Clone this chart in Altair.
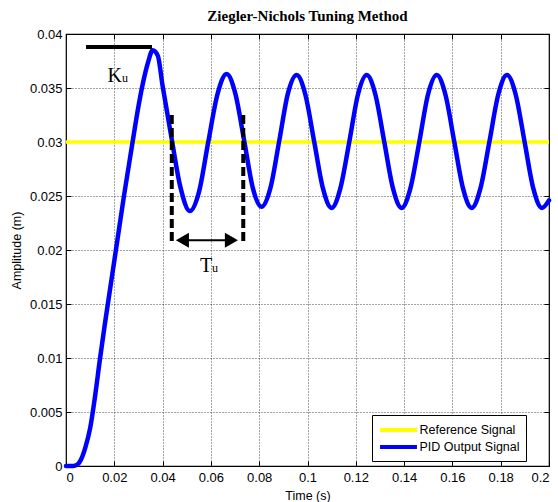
import altair as alt
import pandas as pd

# ---------------- data ----------------
t_pid = [0.000, 0.003, 0.0045, 0.006, 0.008, 0.010, 0.012, 0.014, 0.016, 0.018,
         0.020, 0.022, 0.024, 0.026, 0.028, 0.030, 0.032, 0.034, 0.0359, 0.0380,
         0.0400, 0.0436, 0.0474, 0.0513, 0.0551, 0.0589, 0.0627, 0.0665, 0.0701,
         0.0738, 0.0774, 0.0810, 0.0846, 0.0883, 0.0919, 0.0955, 0.0991, 0.1028,
         0.1064, 0.1100, 0.1136, 0.1173, 0.1209, 0.1245, 0.1281, 0.1318, 0.1354,
         0.1390, 0.1426, 0.1463, 0.1499, 0.1535, 0.1571, 0.1608, 0.1644, 0.1680,
         0.1716, 0.1753, 0.1790, 0.1826, 0.1862, 0.1899, 0.1935, 0.1971, 0.2000]
y_pid = [0.0000, 0.0000, 0.0001, 0.0005, 0.0017, 0.0035, 0.0064, 0.0098, 0.0130, 0.0160,
         0.0190, 0.0220, 0.0250, 0.0278, 0.0306, 0.0333, 0.0356, 0.0374, 0.0385, 0.0380,
         0.0352, 0.0305, 0.0258, 0.0236, 0.0254, 0.0300, 0.0344, 0.0363, 0.0345,
         0.0301, 0.0257, 0.0240, 0.0257, 0.0301, 0.0345, 0.0362, 0.0344, 0.0300,
         0.0257, 0.0239, 0.0257, 0.0300, 0.0344, 0.0362, 0.0344, 0.0300, 0.0257,
         0.0239, 0.0257, 0.0300, 0.0344, 0.0362, 0.0344, 0.0300, 0.0257, 0.0239,
         0.0257, 0.0300, 0.0344, 0.0362, 0.0344, 0.0300, 0.0257, 0.0239, 0.0246]

ref_t = [0.0, 0.2]
ref_y = [0.03, 0.03]

series_names = ["Reference Signal", "PID Output Signal"]
series_colors = ["#FFFF00", "#0000FF"]

x_ticks = [0, 0.02, 0.04, 0.06, 0.08, 0.1, 0.12, 0.14, 0.16, 0.18, 0.2]
y_ticks = [0, 0.005, 0.01, 0.015, 0.02, 0.025, 0.03, 0.035, 0.04]

# annotations (data coordinates)
ku_t = [0.0083, 0.0356]
ku_y = [0.0388]
ku_label_t = [0.0232]
ku_label_y = [0.0356]

tu_dash_t = [0.0438, 0.0734]
tu_dash_y = [0.0325, 0.0208]
tu_arrow_t = [0.0465, 0.0700]
tu_arrow_y = [0.0209]
tu_head_t = [0.0482, 0.0685]
tu_label_t = [0.0605]
tu_label_y = [0.0180]

# ---------------- frames ----------------
pid_df = pd.DataFrame({"t": t_pid, "y": y_pid, "series": series_names[1]})
ref_df = pd.DataFrame({"t": ref_t, "y": ref_y, "series": series_names[0]})
ku_df = pd.DataFrame({"t": [ku_t[0]], "t2": [ku_t[1]], "y": ku_y})
ku_txt = pd.DataFrame({"t": ku_label_t, "y": ku_label_y})
dash_df = pd.DataFrame({"t": tu_dash_t, "y": [tu_dash_y[0]] * 2, "y2": [tu_dash_y[1]] * 2})
arrow_df = pd.DataFrame({"t": [tu_arrow_t[0]], "t2": [tu_arrow_t[1]], "y": tu_arrow_y})
headL_df = pd.DataFrame({"t": [tu_head_t[0]], "y": tu_arrow_y})
headR_df = pd.DataFrame({"t": [tu_head_t[1]], "y": tu_arrow_y})
tu_txt = pd.DataFrame({"t": tu_label_t, "y": tu_label_y})

W, H = 483, 432
SANS = "Liberation Sans"
SERIF = "Liberation Serif"
FS = 13

xs = alt.Scale(domain=[0, 0.2], nice=False, zero=False)
ys = alt.Scale(domain=[0, 0.04], nice=False, zero=False)

color = alt.Color(
    "series:N",
    scale=alt.Scale(domain=series_names, range=series_colors),
    legend=alt.Legend(
        title=None, orient="none", legendX=306, legendY=381,
        symbolType="M-2.64,0L2.64,0", symbolSize=196, symbolStrokeWidth=4,
        symbolOffset=11.5, labelOffset=12, rowPadding=-3, padding=6,
        strokeColor="black", fillColor="white",
        labelFont=SANS, labelFontSize=12.5, labelColor="black",
    ),
)

common = dict(labelFont=SANS, labelFontSize=FS, labelColor="black",
              titleFont=SANS, titleFontSize=12.5, titleColor="black",
              titleFontWeight="normal", grid=True, ticks=False, tickSize=0,
              domain=False, gridDash=[1, 2], gridColor="black",
              gridWidth=0.8, gridOpacity=0.9)
main_x = alt.Axis(values=x_ticks, format=".2~f", title="Time (s)",
                  labelPadding=5, titlePadding=5, **common)
main_y = alt.Axis(values=y_ticks, format=".3~f", title="Amplitude (m)",
                  labelPadding=4, titlePadding=6, **common)

def tick_axis(orient, offset, vals):
    return alt.Axis(orient=orient, offset=offset, values=vals, labels=False,
                    title=None, domain=False, grid=False, ticks=True,
                    tickSize=5, tickColor="black", tickWidth=1)

ref_line = alt.Chart(ref_df).mark_line(strokeWidth=3.5).encode(
    x=alt.X("t:Q", scale=xs, axis=main_x),
    y=alt.Y("y:Q", scale=ys, axis=main_y),
    color=color,
)

pid_line = alt.Chart(pid_df).mark_line(strokeWidth=4.5, interpolate="monotone",
                                       strokeJoin="round", strokeCap="round").encode(
    x=alt.X("t:Q", scale=xs, axis=None),
    y=alt.Y("y:Q", scale=ys, axis=None),
    color=color,
)

ticks_a = alt.Chart(ref_df).mark_line(opacity=0).encode(
    x=alt.X("t:Q", scale=xs, axis=tick_axis("top", -H, x_ticks)),
    y=alt.Y("y:Q", scale=ys, axis=tick_axis("right", -W, y_ticks)),
)
ticks_b = alt.Chart(ref_df).mark_line(opacity=0).encode(
    x=alt.X("t:Q", scale=xs, axis=tick_axis("bottom", -H, x_ticks)),
    y=alt.Y("y:Q", scale=ys, axis=tick_axis("left", -W, y_ticks)),
)

ku_rule = alt.Chart(ku_df).mark_rule(color="black", strokeWidth=4).encode(
    x=alt.X("t:Q", scale=xs, axis=None), x2="t2:Q",
    y=alt.Y("y:Q", scale=ys, axis=None),
)
ku_K = alt.Chart(ku_txt).mark_text(text="K", font=SERIF, fontSize=20, align="right",
                                   baseline="alphabetic", color="black").encode(
    x=alt.X("t:Q", scale=xs, axis=None), y=alt.Y("y:Q", scale=ys, axis=None))
ku_u = alt.Chart(ku_txt).mark_text(text="u", font=SERIF, fontSize=12, align="left",
                                   baseline="alphabetic", color="black").encode(
    x=alt.X("t:Q", scale=xs, axis=None), y=alt.Y("y:Q", scale=ys, axis=None))

dashes = alt.Chart(dash_df).mark_rule(color="black", strokeWidth=4, strokeDash=[9, 4]).encode(
    x=alt.X("t:Q", scale=xs, axis=None),
    y=alt.Y("y:Q", scale=ys, axis=None), y2="y2:Q",
)
arrow = alt.Chart(arrow_df).mark_rule(color="black", strokeWidth=2).encode(
    x=alt.X("t:Q", scale=xs, axis=None), x2="t2:Q",
    y=alt.Y("y:Q", scale=ys, axis=None),
)
headL = alt.Chart(headL_df).mark_point(shape="M-0.87,0L0.87,-1L0.87,1Z", size=225,
                                       filled=True, color="black", opacity=1).encode(
    x=alt.X("t:Q", scale=xs, axis=None), y=alt.Y("y:Q", scale=ys, axis=None))
headR = alt.Chart(headR_df).mark_point(shape="M0.87,0L-0.87,-1L-0.87,1Z", size=225,
                                       filled=True, color="black", opacity=1).encode(
    x=alt.X("t:Q", scale=xs, axis=None), y=alt.Y("y:Q", scale=ys, axis=None))
tu_T = alt.Chart(tu_txt).mark_text(text="T", font=SERIF, fontSize=20, align="right",
                                   baseline="alphabetic", color="black").encode(
    x=alt.X("t:Q", scale=xs, axis=None), y=alt.Y("y:Q", scale=ys, axis=None))
tu_u = alt.Chart(tu_txt).mark_text(text="u", font=SERIF, fontSize=12, align="left",
                                   baseline="alphabetic", color="black").encode(
    x=alt.X("t:Q", scale=xs, axis=None), y=alt.Y("y:Q", scale=ys, axis=None))

chart = alt.layer(
    ref_line, pid_line, ticks_a, ticks_b,
    ku_rule, ku_K, ku_u, dashes, arrow, headL, headR, tu_T, tu_u,
).resolve_axis(x="independent", y="independent").properties(
    width=W, height=H, background="white",
    padding={"left": 66, "top": 34, "right": 9, "bottom": 36},
    autosize=alt.AutoSizeParams(type="none"),
    title=alt.TitleParams("Ziegler-Nichols Tuning Method", font=SERIF, fontSize=15,
                          fontWeight="bold", color="black", offset=4, anchor="middle"),
).configure_view(
    stroke="black", strokeWidth=1.2, fill="white"
)

chart.save("out.html", embed_options={"renderer": "svg", "actions": False})
